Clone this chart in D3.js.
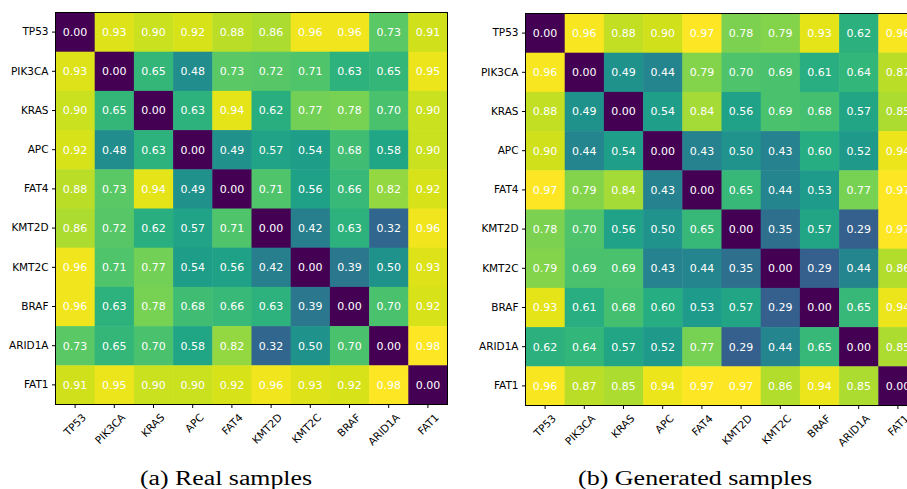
<!DOCTYPE html>
<html>
<head>
<meta charset="utf-8">
<script src="https://cdn.jsdelivr.net/npm/d3@7"></script>
<style>
  html, body { margin: 0; padding: 0; background: #fff; }
  svg { display: block; }
  .tick text { font-family: "DejaVu Sans", sans-serif; font-size: 10.5px; fill: #000; }
  .cell-label { font-family: "DejaVu Sans", sans-serif; font-size: 11px; fill: #fff; }
  .caption { font-family: "Liberation Serif", "DejaVu Serif", serif; font-size: 20px; fill: #000; }
</style>
</head>
<body>
<svg id="chart" width="907" height="489"></svg>
<script>
// Genes in row/column order
const genes = ["TP53", "PIK3CA", "KRAS", "APC", "FAT4", "KMT2D", "KMT2C", "BRAF", "ARID1A", "FAT1"];

// Pairwise values, real samples (rows follow genes)
const realValues = [
  [0.00, 0.93, 0.90, 0.92, 0.88, 0.86, 0.96, 0.96, 0.73, 0.91],
  [0.93, 0.00, 0.65, 0.48, 0.73, 0.72, 0.71, 0.63, 0.65, 0.95],
  [0.90, 0.65, 0.00, 0.63, 0.94, 0.62, 0.77, 0.78, 0.70, 0.90],
  [0.92, 0.48, 0.63, 0.00, 0.49, 0.57, 0.54, 0.68, 0.58, 0.90],
  [0.88, 0.73, 0.94, 0.49, 0.00, 0.71, 0.56, 0.66, 0.82, 0.92],
  [0.86, 0.72, 0.62, 0.57, 0.71, 0.00, 0.42, 0.63, 0.32, 0.96],
  [0.96, 0.71, 0.77, 0.54, 0.56, 0.42, 0.00, 0.39, 0.50, 0.93],
  [0.96, 0.63, 0.78, 0.68, 0.66, 0.63, 0.39, 0.00, 0.70, 0.92],
  [0.73, 0.65, 0.70, 0.58, 0.82, 0.32, 0.50, 0.70, 0.00, 0.98],
  [0.91, 0.95, 0.90, 0.90, 0.92, 0.96, 0.93, 0.92, 0.98, 0.00]
];

// Pairwise values, generated samples
const generatedValues = [
  [0.00, 0.96, 0.88, 0.90, 0.97, 0.78, 0.79, 0.93, 0.62, 0.96],
  [0.96, 0.00, 0.49, 0.44, 0.79, 0.70, 0.69, 0.61, 0.64, 0.87],
  [0.88, 0.49, 0.00, 0.54, 0.84, 0.56, 0.69, 0.68, 0.57, 0.85],
  [0.90, 0.44, 0.54, 0.00, 0.43, 0.50, 0.43, 0.60, 0.52, 0.94],
  [0.97, 0.79, 0.84, 0.43, 0.00, 0.65, 0.44, 0.53, 0.77, 0.97],
  [0.78, 0.70, 0.56, 0.50, 0.65, 0.00, 0.35, 0.57, 0.29, 0.97],
  [0.79, 0.69, 0.69, 0.43, 0.44, 0.35, 0.00, 0.29, 0.44, 0.86],
  [0.93, 0.61, 0.68, 0.60, 0.53, 0.57, 0.29, 0.00, 0.65, 0.94],
  [0.62, 0.64, 0.57, 0.52, 0.77, 0.29, 0.44, 0.65, 0.00, 0.85],
  [0.96, 0.87, 0.85, 0.94, 0.97, 0.97, 0.86, 0.94, 0.85, 0.00]
];

const captions = ["(a) Real samples", "(b) Generated samples"];

const svg = d3.select("#chart");
const size = 392;

const panels = [
  { values: realValues, left: 55.5, top: 12.5, caption: captions[0], cx: 226, capWidth: 172 },
  { values: generatedValues, left: 525.5, top: 13.5, caption: captions[1], cx: 695, capWidth: 234 }
];

panels.forEach(p => {
  const g = svg.append("g").attr("transform", `translate(${p.left},${p.top})`);

  const x = d3.scaleBand().domain(genes).range([0, size]);
  const y = d3.scaleBand().domain(genes).range([0, size]);
  const vmax = d3.max(p.values.flat());
  const color = d3.scaleSequential(d3.interpolateViridis).domain([0, vmax]);

  const cells = [];
  p.values.forEach((row, i) => row.forEach((v, j) => cells.push({ r: genes[i], c: genes[j], v })));

  g.selectAll("rect.cell").data(cells).join("rect")
    .attr("class", "cell")
    .attr("x", d => x(d.c))
    .attr("y", d => y(d.r))
    .attr("width", x.bandwidth() + 0.5)
    .attr("height", y.bandwidth() + 0.5)
    .attr("fill", d => color(d.v));

  g.selectAll("text.cell-label").data(cells).join("text")
    .attr("class", "cell-label")
    .attr("x", d => x(d.c) + x.bandwidth() / 2)
    .attr("y", d => y(d.r) + y.bandwidth() / 2)
    .attr("text-anchor", "middle")
    .attr("dy", "0.35em")
    .text(d => d.v.toFixed(2));

  // Frame around the matrix
  g.append("rect")
    .attr("width", size).attr("height", size)
    .attr("fill", "none").attr("stroke", "#000").attr("stroke-width", 1);

  const yAxis = g.append("g")
    .call(d3.axisLeft(y).tickSize(3.5).tickPadding(3.5));
  yAxis.select(".domain").remove();

  const xAxis = g.append("g")
    .attr("transform", `translate(0,${size})`)
    .call(d3.axisBottom(x).tickSize(3.5).tickPadding(3.5));
  xAxis.select(".domain").remove();
  xAxis.selectAll(".tick text")
    .attr("text-anchor", "end")
    .attr("dy", null)
    .attr("y", 0)
    .attr("transform", "translate(6,8) rotate(-45)")
    .attr("dominant-baseline", "hanging");

  svg.append("text")
    .attr("class", "caption")
    .attr("x", p.cx)
    .attr("y", 485)
    .attr("text-anchor", "middle")
    .attr("textLength", p.capWidth)
    .attr("lengthAdjust", "spacingAndGlyphs")
    .text(p.caption);
});
</script>
</body>
</html>
